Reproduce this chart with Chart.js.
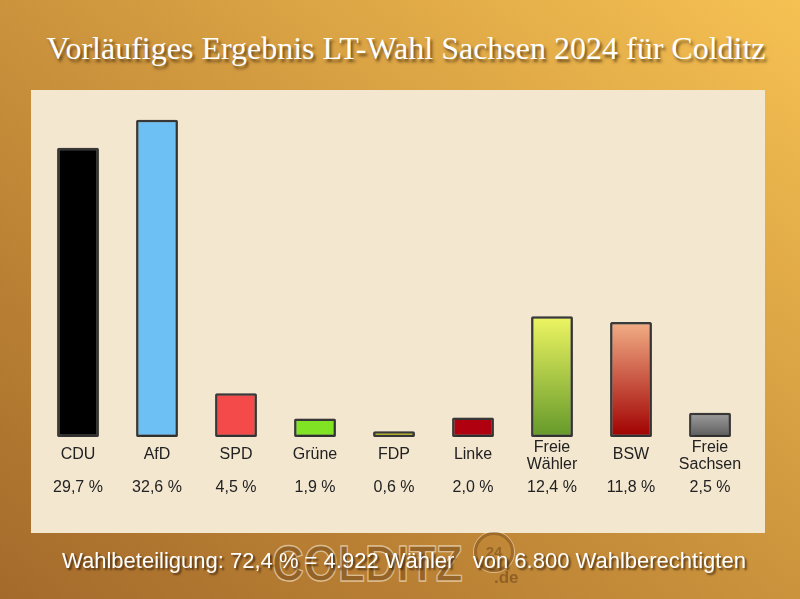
<!DOCTYPE html>
<html>
<head>
<meta charset="utf-8">
<script src="https://cdn.jsdelivr.net/npm/chart.js@4"></script>
<style>
  html,body{margin:0;padding:0}
  body{width:800px;height:599px;position:relative;overflow:hidden;
    background:linear-gradient(to top right,#A46A2B 0%,#CB933C 50%,#F6C153 100%);}
  #title{position:absolute;left:0;width:812px;top:30px;text-align:center;
    font-family:"Liberation Serif","DejaVu Serif",serif;font-size:32px;color:#fff;
    text-shadow:2px 3px 3px rgba(70,45,15,.75);white-space:nowrap}
  #panel{position:absolute;left:31px;top:90px;width:734px;height:443px;background:#F4E7D0}
  #mark{position:absolute;left:272px;top:536px;font-family:"Liberation Sans",Arial,sans-serif;
    font-weight:bold;font-size:44px;letter-spacing:0px;color:rgba(115,72,25,.5);
    -webkit-text-stroke:1.2px rgba(255,240,215,.6);transform:scaleY(1.12);transform-origin:left top}
  #ring{position:absolute;left:474px;top:532px;width:34px;height:34px;border-radius:50%;
    border:3px solid rgba(115,72,25,.45);box-shadow:0 0 0 1px rgba(255,240,215,.5);
    font:bold 15px "Liberation Sans",Arial,sans-serif;color:rgba(115,72,25,.55);
    text-align:center;line-height:34px}
  #de{position:absolute;left:494px;top:568px;font:bold 17px "Liberation Sans",Arial,sans-serif;
    color:rgba(115,72,25,.6)}
  #footer{position:absolute;left:0;width:808px;top:548px;text-align:center;
    font-family:"Liberation Sans",Arial,sans-serif;font-size:22px;color:#fff;
    text-shadow:2px 2px 2px rgba(60,35,10,.8);white-space:pre}
</style>
</head>
<body>
<div id="title">Vorläufiges Ergebnis LT-Wahl Sachsen 2024 für Colditz</div>
<div id="panel"><canvas id="c"></canvas></div>
<div id="mark">COLDITZ</div>
<div id="ring">24</div>
<div id="de">.de</div>
<div id="footer">Wahlbeteiligung: 72,4 % = 4.922 Wähler   von 6.800 Wahlberechtigten</div>
<script>
// Parteien und Ergebnisse (Prozent)
const PARTIES=[['CDU'],['AfD'],['SPD'],['Grüne'],['FDP'],['Linke'],['Freie','Wähler'],['BSW'],['Freie','Sachsen']];
const VALUES=[29.7,32.6,4.5,1.9,0.6,2.0,12.4,11.8,2.5];
// Farben: einfarbig oder [oben, unten] als Verlauf
const COLORS=['#000000','#6CC0F3','#F54A4A','#80E324','#F8F500','#B0000F',['#EEF562','#64992A'],['#F2AE86','#A00000'],['#A0A0A0','#5A5A5A']];

function barFill(ctx){
  const c=COLORS[ctx.dataIndex];
  if(typeof c==='string') return c;
  const ch=ctx.chart;
  if(!ch.chartArea) return c[1];
  const y=ch.scales.y;
  const top=y.getPixelForValue(VALUES[ctx.dataIndex]), bot=y.getPixelForValue(0);
  const g=ch.ctx.createLinearGradient(0,top,0,bot);
  g.addColorStop(0,c[0]);g.addColorStop(1,c[1]);
  return g;
}

const shadowPlugin={id:'shadow',
  beforeDatasetsDraw(ch){const x=ch.ctx;x.save();x.shadowColor='rgba(0,0,0,.4)';x.shadowBlur=3;x.shadowOffsetX=1;x.shadowOffsetY=1;},
  afterDatasetsDraw(ch){ch.ctx.restore();}
};

const labelPlugin={id:'labels',
  afterDraw(ch){
    const x=ch.ctx, sx=ch.scales.x, base=ch.chartArea.bottom;
    x.save();
    x.font='16px "Liberation Sans", Arial, sans-serif';
    x.fillStyle='#222';x.textAlign='center';x.textBaseline='middle';
    PARTIES.forEach((p,i)=>{
      const cx=sx.getPixelForValue(i);
      const y0=base+18-(p.length-1)*8.5+(p.length>1?1:0);
      p.forEach((line,k)=>x.fillText(line,cx,y0+k*17));
      x.fillText(VALUES[i].toFixed(1).replace('.',',')+' %',cx,base+51);
    });
    x.restore();
  }
};

new Chart(document.getElementById('c').getContext('2d'),{
  type:'bar',
  data:{labels:PARTIES.map(p=>p.join(' ')),datasets:[{data:VALUES,backgroundColor:barFill,
    borderColor:'#3A3A3A',borderWidth:2.5,borderSkipped:false,borderRadius:1.5,
    categoryPercentage:1,barPercentage:0.53}]},
  options:{responsive:true,maintainAspectRatio:false,animation:false,
    layout:{padding:{left:7.5,right:15.5,top:16,bottom:96}},
    plugins:{legend:{display:false},tooltip:{enabled:false}},
    scales:{x:{display:false},y:{display:false,min:0,max:34}}},
  plugins:[shadowPlugin,labelPlugin]
});
</script>
</body>
</html>
